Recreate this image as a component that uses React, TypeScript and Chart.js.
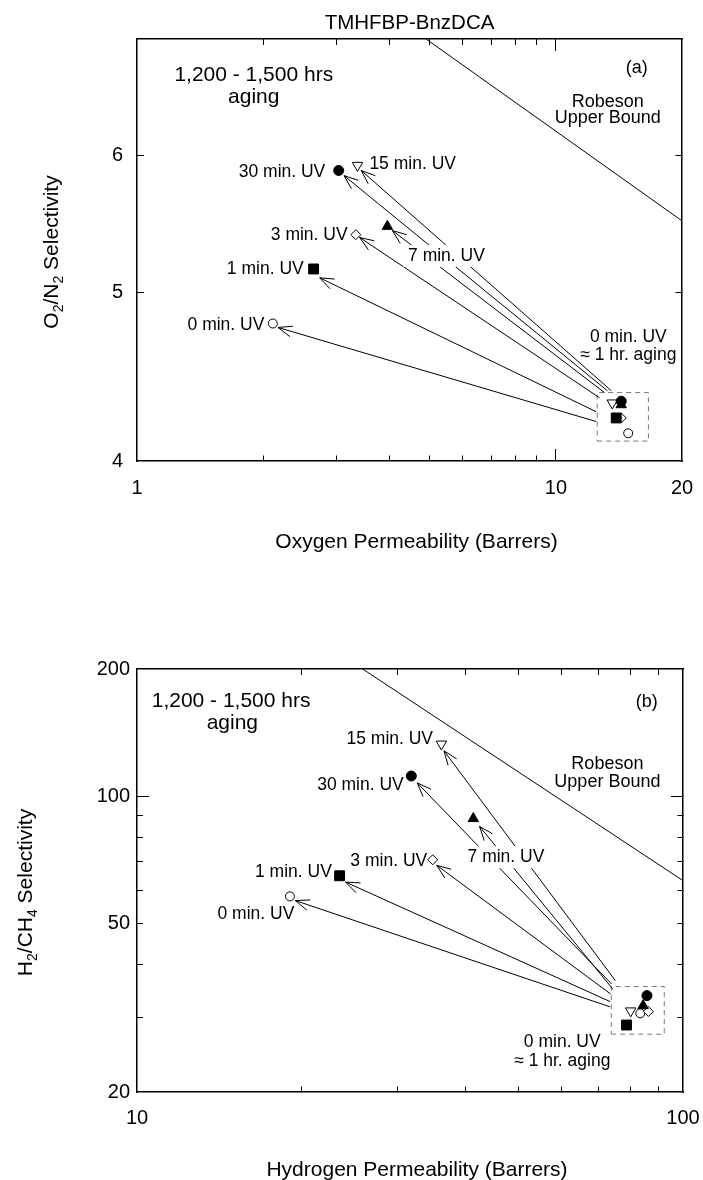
import React, { useEffect, useRef } from 'react';
import { Chart, registerables } from 'chart.js';

Chart.register(...registerables);

const FONT = "'Liberation Sans', Arial, Helvetica, sans-serif";

// ---------- shared ----------
const uvLabels = ['0 min. UV', '1 min. UV', '3 min. UV', '7 min. UV', '15 min. UV', '30 min. UV'];

// ---------- panel (a): O2/N2 ----------
const o2PermInitial = [14.88, 13.93, 14.32, 14.32, 13.63, 14.32];
const o2SelInitial = [4.15, 4.235, 4.235, 4.31, 4.32, 4.33];
const o2PermAged = [2.11, 2.64, 3.33, 3.96, 3.36, 3.03];
const o2SelAged = [4.8, 5.16, 5.4, 5.46, 5.92, 5.88];
const o2ArrowFromX = [12.48, 12.48, 12.71, 13.06, 13.57, 13.28];
const o2ArrowFromY = [4.215, 4.27, 4.35, 4.38, 4.39, 4.39];
const o2ArrowToX = [2.17, 2.73, 3.4, 4.07, 3.43, 3.12];
const o2ArrowToY = [4.775, 5.1, 5.38, 5.43, 5.88, 5.84];
const o2RobesonX = [4.9, 20];
const o2RobesonY = [7.0, 5.5];
const o2BoxX = [12.55, 16.63];
const o2BoxY = [4.107, 4.38];
const o2XTicks = [1, 2, 3, 4, 5, 6, 7, 8, 9, 10, 20];
const o2XLabels = [1, 10, 20];
const o2YTicks = [4, 5, 6, 7];
const o2YLabels = [4, 5, 6];

// ---------- panel (b): H2/CH4 ----------
const h2PermInitial = [83.5, 78.8, 86.4, 84.5, 80.2, 85.9];
const h2SelInitial = [30.7, 28.8, 31.0, 32.0, 31.1, 33.8];
const h2PermAged = [19.06, 23.5, 34.8, 41.3, 36.1, 31.8];
const h2SelAged = [58.0, 64.9, 70.8, 88.6, 132.9, 111.7];
const h2ArrowFromX = [73.5, 73.6, 73.7, 74.4, 75.2, 74.0];
const h2ArrowFromY = [31.8, 32.7, 34.1, 35.0, 36.65, 36.0];
const h2ArrowToX = [19.5, 24.1, 35.4, 42.4, 36.5, 32.6];
const h2ArrowToY = [56.7, 62.7, 68.7, 84.9, 128.1, 107.6];
const h2RobesonX = [25.9, 100];
const h2RobesonY = [200, 63.2];
const h2BoxX = [73.9, 92.4];
const h2BoxY = [27.4, 35.5];
const h2XTicks = [10, 20, 30, 40, 50, 60, 70, 80, 90, 100];
const h2XLabels = [10, 100];
const h2YTicks = [20, 30, 40, 50, 60, 70, 80, 90, 100, 200];
const h2YLabels = [20, 50, 100, 200];

type Note = { text: string; x: number; y: number; align: 'left' | 'right' | 'center'; size: number; bg?: boolean };

const o2Notes: Note[] = [
  { text: '1,200 - 1,500 hrs', x: 1.9, y: 6.67, align: 'center', size: 21 },
  { text: 'aging', x: 1.9, y: 6.48, align: 'center', size: 21 },
  { text: '(a)', x: 15.6, y: 6.74, align: 'center', size: 18 },
  { text: 'Robeson', x: 13.3, y: 6.44, align: 'center', size: 18 },
  { text: 'Upper Bound', x: 13.3, y: 6.3, align: 'center', size: 18 },
  { text: '30 min. UV', x: 2.815, y: 5.866, align: 'right', size: 17.5 },
  { text: '15 min. UV', x: 3.587, y: 5.93, align: 'left', size: 17.5 },
  { text: '3 min. UV', x: 3.183, y: 5.4, align: 'right', size: 17.5 },
  { text: '7 min. UV', x: 5.48, y: 5.25, align: 'center', size: 17.5, bg: true },
  { text: '1 min. UV', x: 2.5, y: 5.16, align: 'right', size: 17.5 },
  { text: '0 min. UV', x: 2.014, y: 4.79, align: 'right', size: 17.5 },
  { text: '0 min. UV', x: 14.89, y: 4.714, align: 'center', size: 17.5 },
  { text: '\u2248 1 hr. aging', x: 14.89, y: 4.6, align: 'center', size: 17.5 },
];

const h2Notes: Note[] = [
  { text: '1,200 - 1,500 hrs', x: 14.87, y: 167.4, align: 'center', size: 21 },
  { text: 'aging', x: 14.95, y: 148.7, align: 'center', size: 21 },
  { text: '(b)', x: 85.8, y: 167.4, align: 'center', size: 18 },
  { text: 'Robeson', x: 72.7, y: 119.1, align: 'center', size: 18 },
  { text: 'Upper Bound', x: 72.7, y: 108.2, align: 'center', size: 18 },
  { text: '15 min. UV', x: 34.85, y: 136.2, align: 'right', size: 17.5 },
  { text: '30 min. UV', x: 30.8, y: 106.2, align: 'right', size: 17.5 },
  { text: '7 min. UV', x: 47.4, y: 71.8, align: 'center', size: 17.5, bg: true },
  { text: '3 min. UV', x: 34.0, y: 70.2, align: 'right', size: 17.5 },
  { text: '1 min. UV', x: 22.74, y: 66.2, align: 'right', size: 17.5 },
  { text: '0 min. UV', x: 16.51, y: 52.7, align: 'center', size: 17.5 },
  { text: '0 min. UV', x: 60.1, y: 26.2, align: 'center', size: 17.5 },
  { text: '\u2248 1 hr. aging', x: 60.1, y: 23.7, align: 'center', size: 17.5 },
];

// marker styles per UV time (0,1,3,7,15,30 min)
const markerStyle = [
  { style: 'circle', r: 4.5, fill: '#fff', rot: 0, order: 6 },
  { style: 'rect', r: 7, fill: '#000', rot: 0, order: 4 },
  { style: 'rectRot', r: 5, fill: '#fff', rot: 0, order: 5 },
  { style: 'triangle', r: 6, fill: '#000', rot: 0, order: 3 },
  { style: 'triangle', r: 6, fill: '#fff', rot: 180, order: 2 },
  { style: 'circle', r: 5, fill: '#000', rot: 0, order: 1 },
];

type Seg = { t: string; sub?: boolean };

type PanelCfg = {
  permInitial: number[]; selInitial: number[]; permAged: number[]; selAged: number[];
  fromX: number[]; fromY: number[]; toX: number[]; toY: number[];
  robX: number[]; robY: number[]; boxX: number[]; boxY: number[];
  xMin: number; xMax: number; yMin: number; yMax: number;
  xTicks: number[]; xLabels: number[]; yTicks: number[]; yLabels: number[];
  xMajors: number[]; yMajors: number[]; xMinor: number; yMinor: number;
  sizes: { left: number; right: number; top: number; bottom: number };
  xLabelGap: number; yPad: number;
  notes: Note[];
  title?: string; xTitle: string; xTitleGap: number;
  yTitle: Seg[]; yTitleX: number; yTitleShift: number;
};

const MAJOR = 12;
const TICK_FONT = 20;

function makeAxis(o: {
  position: 'top' | 'bottom' | 'left' | 'right'; min: number; max: number; ticks: number[]; labels: number[] | null;
  majors: number[]; minorLen: number; size: number; padding: number; lineHeight?: number;
}) {
  const horizontal = o.position === 'top' || o.position === 'bottom';
  const inwardFirst = o.position === 'top' || o.position === 'left';
  const isEdge = (v: number) => Math.abs(v - o.min) < 1e-9 || Math.abs(v - o.max) < 1e-9;
  return {
    type: 'logarithmic',
    axis: horizontal ? 'x' : 'y',
    position: o.position,
    min: o.min,
    max: o.max,
    afterBuildTicks: (s: any) => {
      s.ticks = o.ticks.map((v) => ({ value: v }));
    },
    afterFit: (s: any) => {
      if (horizontal) s.height = o.size;
      else s.width = o.size;
    },
    border: { display: true, color: '#000', width: 1.5 },
    grid: {
      display: true,
      drawOnChartArea: false,
      drawTicks: true,
      tickLength: -MAJOR,
      color: '#000',
      lineWidth: 1,
      tickWidth: 1,
      tickColor: (c: any) => (c.tick && isEdge(c.tick.value) ? 'rgba(0,0,0,0)' : '#000'),
      tickBorderDash: (c: any) => {
        const v = c.tick ? c.tick.value : NaN;
        if (o.majors.includes(v)) return [];
        return inwardFirst ? [0, MAJOR - o.minorLen, o.minorLen, 200] : [o.minorLen, 200];
      },
    },
    ticks: {
      display: !!o.labels,
      autoSkip: false,
      maxRotation: 0,
      minRotation: 0,
      padding: o.padding,
      color: '#000',
      font: o.lineHeight
        ? { family: FONT, size: TICK_FONT, lineHeight: `${o.lineHeight}px` }
        : { family: FONT, size: TICK_FONT },
      callback: (v: any) => (o.labels && o.labels.includes(Number(v)) ? String(v) : ''),
    },
  };
}

function drawRotatedTitle(ctx: CanvasRenderingContext2D, segs: Seg[], cx: number, cy: number) {
  const main = 21;
  const sub = 14;
  ctx.save();
  ctx.translate(cx, cy);
  ctx.rotate(-Math.PI / 2);
  ctx.textBaseline = 'middle';
  ctx.textAlign = 'left';
  ctx.fillStyle = '#000';
  let total = 0;
  const widths = segs.map((s) => {
    ctx.font = `${s.sub ? sub : main}px ${FONT}`;
    const w = ctx.measureText(s.t).width;
    total += w;
    return w;
  });
  let x = -total / 2;
  segs.forEach((s, i) => {
    ctx.font = `${s.sub ? sub : main}px ${FONT}`;
    ctx.fillText(s.t, x, s.sub ? 7 : 0);
    x += widths[i];
  });
  ctx.restore();
}

function makePlugin(p: PanelCfg) {
  const HEAD = 15;
  const SPREAD = (21 * Math.PI) / 180;
  return {
    id: 'annot',
    afterDatasetsDraw(chart: any) {
      const ctx: CanvasRenderingContext2D = chart.ctx;
      const xs = chart.scales.x;
      const ys = chart.scales.y;
      ctx.save();
      chart.data.datasets.forEach((d: any, i: number) => {
        if (!d.isArrow) return;
        const pts = chart.getDatasetMeta(i).data;
        const a = pts[0];
        const b = pts[1];
        const ang = Math.atan2(a.y - b.y, a.x - b.x);
        ctx.beginPath();
        ctx.strokeStyle = '#000';
        ctx.lineWidth = 1;
        [-1, 1].forEach((s) => {
          ctx.moveTo(b.x, b.y);
          ctx.lineTo(b.x + HEAD * Math.cos(ang + s * SPREAD), b.y + HEAD * Math.sin(ang + s * SPREAD));
        });
        ctx.stroke();
      });
      ctx.textBaseline = 'middle';
      p.notes.forEach((n) => {
        ctx.font = `${n.size}px ${FONT}`;
        const px = xs.getPixelForValue(n.x);
        const py = ys.getPixelForValue(n.y);
        ctx.textAlign = n.align;
        if (n.bg) {
          const w = ctx.measureText(n.text).width;
          const left = n.align === 'center' ? px - w / 2 : n.align === 'right' ? px - w : px;
          ctx.fillStyle = '#fff';
          ctx.fillRect(left - 5, py - 11, w + 10, 22);
        }
        ctx.fillStyle = '#000';
        ctx.fillText(n.text, px, py);
      });
      ctx.restore();
    },
    afterDraw(chart: any) {
      const ctx: CanvasRenderingContext2D = chart.ctx;
      const ca = chart.chartArea;
      const cx = (ca.left + ca.right) / 2;
      ctx.save();
      ctx.fillStyle = '#000';
      ctx.textAlign = 'center';
      ctx.textBaseline = 'middle';
      if (p.title) {
        ctx.font = `20.5px ${FONT}`;
        ctx.fillText(p.title, cx, ca.top - 16);
      }
      ctx.font = `21px ${FONT}`;
      ctx.fillText(p.xTitle, cx + 7, ca.bottom + p.xTitleGap);
      ctx.restore();
      drawRotatedTitle(ctx, p.yTitle, p.yTitleX, (ca.top + ca.bottom) / 2 + p.yTitleShift);
    },
  };
}

function buildConfig(p: PanelCfg): any {
  const datasets: any[] = [];
  uvLabels.forEach((lab, i) => {
    const m = markerStyle[i];
    datasets.push({
      label: lab,
      data: [
        { x: p.permInitial[i], y: p.selInitial[i] },
        { x: p.permAged[i], y: p.selAged[i] },
      ],
      showLine: false,
      pointStyle: m.style,
      pointRadius: m.r,
      pointHoverRadius: m.r,
      pointRotation: m.rot,
      backgroundColor: m.fill,
      borderColor: '#000',
      borderWidth: 1,
      order: m.order,
    });
    datasets.push({
      label: lab + ' arrow',
      isArrow: true,
      data: [
        { x: p.fromX[i], y: p.fromY[i] },
        { x: p.toX[i], y: p.toY[i] },
      ],
      showLine: true,
      pointRadius: 0,
      pointHoverRadius: 0,
      borderColor: '#000',
      borderWidth: 1,
      fill: false,
      tension: 0,
      order: 10,
    });
  });
  datasets.push({
    label: 'Robeson Upper Bound',
    data: p.robX.map((x, i) => ({ x, y: p.robY[i] })),
    showLine: true,
    pointRadius: 0,
    borderColor: '#000',
    borderWidth: 1,
    fill: false,
    order: 20,
  });
  datasets.push({
    label: 'initial box',
    data: [
      { x: p.boxX[0], y: p.boxY[0] },
      { x: p.boxX[1], y: p.boxY[0] },
      { x: p.boxX[1], y: p.boxY[1] },
      { x: p.boxX[0], y: p.boxY[1] },
      { x: p.boxX[0], y: p.boxY[0] },
    ],
    showLine: true,
    pointRadius: 0,
    borderColor: '#777',
    borderWidth: 1,
    borderDash: [5, 4],
    fill: false,
    order: 20,
  });

  // label centre = axis edge - MAJOR + lineHeight/2  (padding kept 0 so it does not widen the layout)
  const xLineHeight = 2 * (p.xLabelGap + MAJOR);

  return {
    type: 'scatter',
    data: { datasets },
    options: {
      animation: false,
      responsive: false,
      devicePixelRatio: 1,
      events: [],
      layout: { padding: 0, autoPadding: false },
      plugins: { legend: { display: false }, tooltip: { enabled: false }, title: { display: false } },
      scales: {
        x: makeAxis({ position: 'bottom', min: p.xMin, max: p.xMax, ticks: p.xTicks, labels: p.xLabels, majors: p.xMajors, minorLen: p.xMinor, size: p.sizes.bottom, padding: 0, lineHeight: xLineHeight }),
        x2: makeAxis({ position: 'top', min: p.xMin, max: p.xMax, ticks: p.xTicks, labels: null, majors: p.xMajors, minorLen: p.xMinor, size: p.sizes.top, padding: 0 }),
        y: makeAxis({ position: 'left', min: p.yMin, max: p.yMax, ticks: p.yTicks, labels: p.yLabels, majors: p.yMajors, minorLen: p.yMinor, size: p.sizes.left, padding: p.yPad }),
        y2: makeAxis({ position: 'right', min: p.yMin, max: p.yMax, ticks: p.yTicks, labels: null, majors: p.yMajors, minorLen: p.yMinor, size: p.sizes.right, padding: 0 }),
      },
    },
    plugins: [makePlugin(p)],
  };
}

const panelA: PanelCfg = {
  permInitial: o2PermInitial, selInitial: o2SelInitial, permAged: o2PermAged, selAged: o2SelAged,
  fromX: o2ArrowFromX, fromY: o2ArrowFromY, toX: o2ArrowToX, toY: o2ArrowToY,
  robX: o2RobesonX, robY: o2RobesonY, boxX: o2BoxX, boxY: o2BoxY,
  xMin: 1, xMax: 20, yMin: 4, yMax: 7,
  xTicks: o2XTicks, xLabels: o2XLabels, yTicks: o2YTicks, yLabels: o2YLabels,
  xMajors: [10], yMajors: [], xMinor: 6, yMinor: 7,
  sizes: { left: 137, right: 21, top: 39, bottom: 129 },
  xLabelGap: 27, yPad: 26,
  notes: o2Notes,
  title: 'TMHFBP-BnzDCA',
  xTitle: 'Oxygen Permeability (Barrers)', xTitleGap: 81,
  yTitle: [{ t: 'O' }, { t: '2', sub: true }, { t: '/N' }, { t: '2', sub: true }, { t: ' Selectivity' }],
  yTitleX: 52, yTitleShift: 2,
};

const panelB: PanelCfg = {
  permInitial: h2PermInitial, selInitial: h2SelInitial, permAged: h2PermAged, selAged: h2SelAged,
  fromX: h2ArrowFromX, fromY: h2ArrowFromY, toX: h2ArrowToX, toY: h2ArrowToY,
  robX: h2RobesonX, robY: h2RobesonY, boxX: h2BoxX, boxY: h2BoxY,
  xMin: 10, xMax: 100, yMin: 20, yMax: 200,
  xTicks: h2XTicks, xLabels: h2XLabels, yTicks: h2YTicks, yLabels: h2YLabels,
  xMajors: [], yMajors: [100], xMinor: 6, yMinor: 6,
  sizes: { left: 137, right: 20, top: 79, bottom: 88 },
  xLabelGap: 26, yPad: 19,
  notes: h2Notes,
  xTitle: 'Hydrogen Permeability (Barrers)', xTitleGap: 78,
  yTitle: [{ t: 'H' }, { t: '2', sub: true }, { t: '/CH' }, { t: '4', sub: true }, { t: ' Selectivity' }],
  yTitleX: 26, yTitleShift: 12,
};

function Panel({ cfg }: { cfg: PanelCfg }) {
  const ref = useRef<HTMLCanvasElement>(null);
  useEffect(() => {
    if (!ref.current) return;
    const chart = new Chart(ref.current, buildConfig(cfg));
    return () => chart.destroy();
  }, [cfg]);
  return <canvas ref={ref} width={703} height={590} style={{ display: 'block', width: 703, height: 590 }} />;
}

export default function App() {
  return (
    <div style={{ position: 'absolute', left: 0, top: 0, width: 703, height: 1180, background: '#fff', overflow: 'hidden' }}>
      <Panel cfg={panelA} />
      <Panel cfg={panelB} />
    </div>
  );
}
